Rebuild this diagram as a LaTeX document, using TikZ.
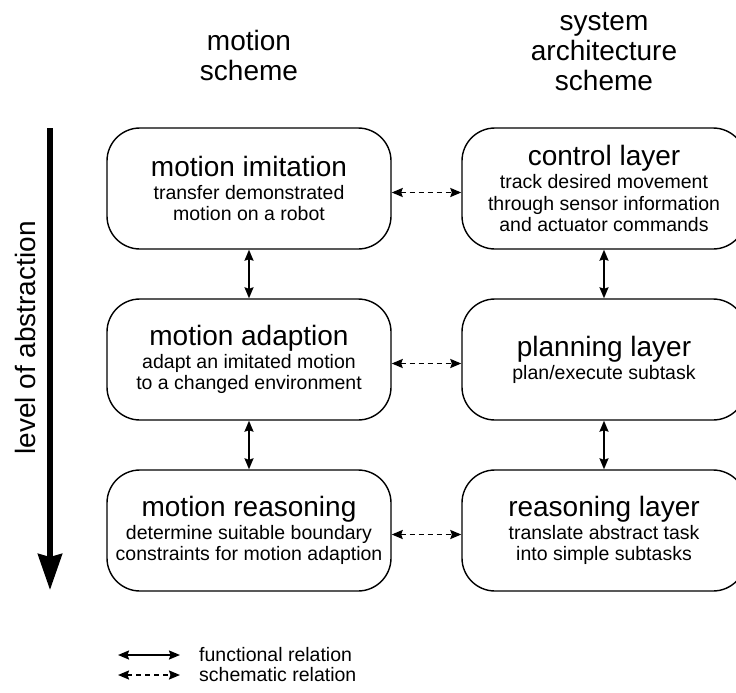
\documentclass[tikz,border=0pt]{standalone}
\usepackage{fontspec}
\setmainfont{Liberation Sans}
\usetikzlibrary{arrows.meta}

\newcommand{\boxhead}[1]{{\fontsize{28}{30}\selectfont #1}}

\tikzset{
  layerbox/.style={draw, line width=1.4pt, rounded corners=33pt,
    minimum width=284pt, minimum height=121pt, inner sep=0pt,
    align=center, font=\fontsize{19.5}{21.5}\selectfont},
  heading/.style={align=center, inner sep=0pt, font=\fontsize{28}{30}\selectfont},
  funcrel/.style={line width=1.8pt, {Stealth[length=11pt, width=9pt, inset=1.5pt]}-{Stealth[length=11pt, width=9pt, inset=1.5pt]}},
  schemrel/.style={funcrel, dash pattern=on 5pt off 4pt},
  legendtext/.style={anchor=west, inner sep=0pt, font=\fontsize{19.5}{21.5}\selectfont}
}

\begin{document}
\begin{tikzpicture}[x=1pt, y=-1pt]
  \useasboundingbox (0,0) rectangle (736,693);

  % column headings
  \node[heading] (hleft) at (249,55) {motion\\scheme};
  \node[heading] (hright) at (604,52) {system\\architecture\\scheme};

  % level of abstraction axis
  \coordinate (axtop) at (50,128);
  \coordinate (axbot) at (50,590);
  \draw[line width=5.5pt, -{Stealth[length=36pt, width=24pt, inset=3pt]}] (axtop) -- (axbot);
  \node[rotate=90, inner sep=0pt, font=\fontsize{28}{30}\selectfont] (axlabel) at (25,338) {level of abstraction};

  % motion scheme column
  \node[layerbox] (imit) at (249,188.5) {\boxhead{motion imitation}\\[1.5pt]
    transfer demonstrated\\ motion on a robot};
  \node[layerbox] (adapt) at (249,359.5) {\boxhead{motion adaption}\\[1.5pt]
    adapt an imitated motion\\ to a changed environment};
  \node[layerbox] (reason) at (249,530.5) {\boxhead{motion reasoning}\\[1.5pt]
    determine suitable boundary\\ constraints for motion adaption};

  % system architecture column
  \node[layerbox] (ctrl) at (604,188.5) {\boxhead{control layer}\\[1.5pt]
    track desired movement\\ through sensor information\\ and actuator commands};
  \node[layerbox] (plan) at (604,359.5) {\boxhead{planning layer}\\[1.5pt]
    plan/execute subtask};
  \node[layerbox] (rlayer) at (604,530.5) {\boxhead{reasoning layer}\\[1.5pt]
    translate abstract task\\ into simple subtasks};

  % functional relations
  \draw[funcrel] (imit) -- (adapt);
  \draw[funcrel] (adapt) -- (reason);
  \draw[funcrel] (ctrl) -- (plan);
  \draw[funcrel] (plan) -- (rlayer);

  % schematic relations
  \draw[schemrel] ([yshift=-4pt]imit.east) -- ([yshift=-4pt]ctrl.west);
  \draw[schemrel] ([yshift=-4pt]adapt.east) -- ([yshift=-4pt]plan.west);
  \draw[schemrel] ([yshift=-4pt]reason.east) -- ([yshift=-4pt]rlayer.west);

  % legend
  \coordinate (fa) at (118,655);
  \coordinate (fb) at (180,655);
  \coordinate (sa) at (118,675);
  \coordinate (sb) at (180,675);
  \draw[funcrel] (fa) -- (fb);
  \draw[schemrel] (sa) -- (sb);
  \node[legendtext] (flabel) at (199,655) {functional relation};
  \node[legendtext] (slabel) at (199,675) {schematic relation};
\end{tikzpicture}
\end{document}
